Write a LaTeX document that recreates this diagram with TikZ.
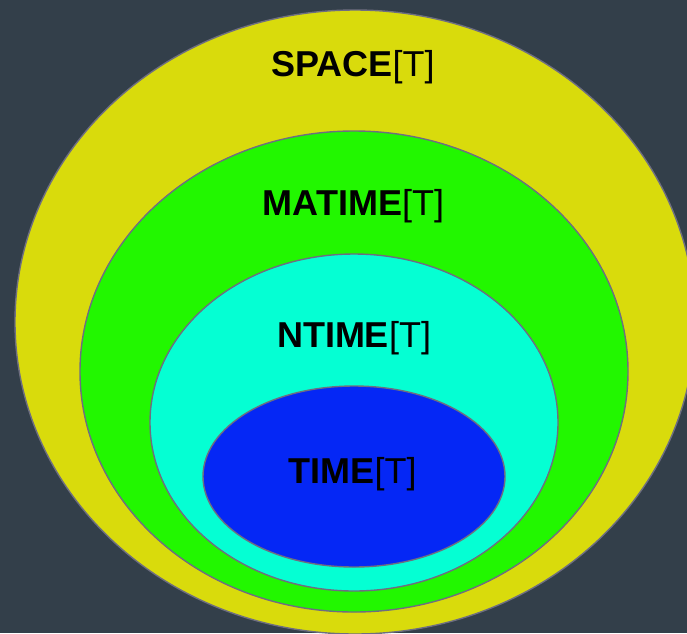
\documentclass[tikz,border=0pt]{standalone}
\usepackage{fontspec}
\setmainfont{Liberation Sans}
\usetikzlibrary{shapes.geometric}

\definecolor{slate}{HTML}{333F4A}
\definecolor{spacecol}{HTML}{D9DB0C}
\definecolor{matimecol}{HTML}{22F700}
\definecolor{ntimecol}{HTML}{05FFD3}
\definecolor{timecol}{HTML}{0527F5}
\definecolor{rim}{HTML}{6E6E80}

\begin{document}
\begin{tikzpicture}[
  x=1pt,y=-1pt,
  set/.style={ellipse,draw=rim,line width=1.4pt,inner sep=0pt},
  lbl/.style={anchor=base,text=black,font=\fontsize{36}{36}\selectfont}
]
\fill[slate] (0,0) rectangle (687,633);
\useasboundingbox (0,0) rectangle (687,633);

% nested classes, outermost first
\node[set,fill=spacecol,minimum width=680pt,minimum height=624pt] (space) at (355,322) {};
\node[set,fill=matimecol,minimum width=548pt,minimum height=481pt] (matime) at (354,371.5) {};
\node[set,fill=ntimecol,minimum width=408pt,minimum height=337pt] (ntime) at (354,422.5) {};
\node[set,fill=timecol,minimum width=302pt,minimum height=181pt] (time) at (354,476.5) {};

\node[lbl] (spacelbl) at (353,76) {\textbf{SPACE}[T]};
\node[lbl] (matimelbl) at (353.5,215) {\textbf{MATIME}[T]};
\node[lbl] (ntimelbl) at (354,347) {\textbf{NTIME}[T]};
\node[lbl] (timelbl) at (352.5,483) {\textbf{TIME}[T]};
\end{tikzpicture}
\end{document}
